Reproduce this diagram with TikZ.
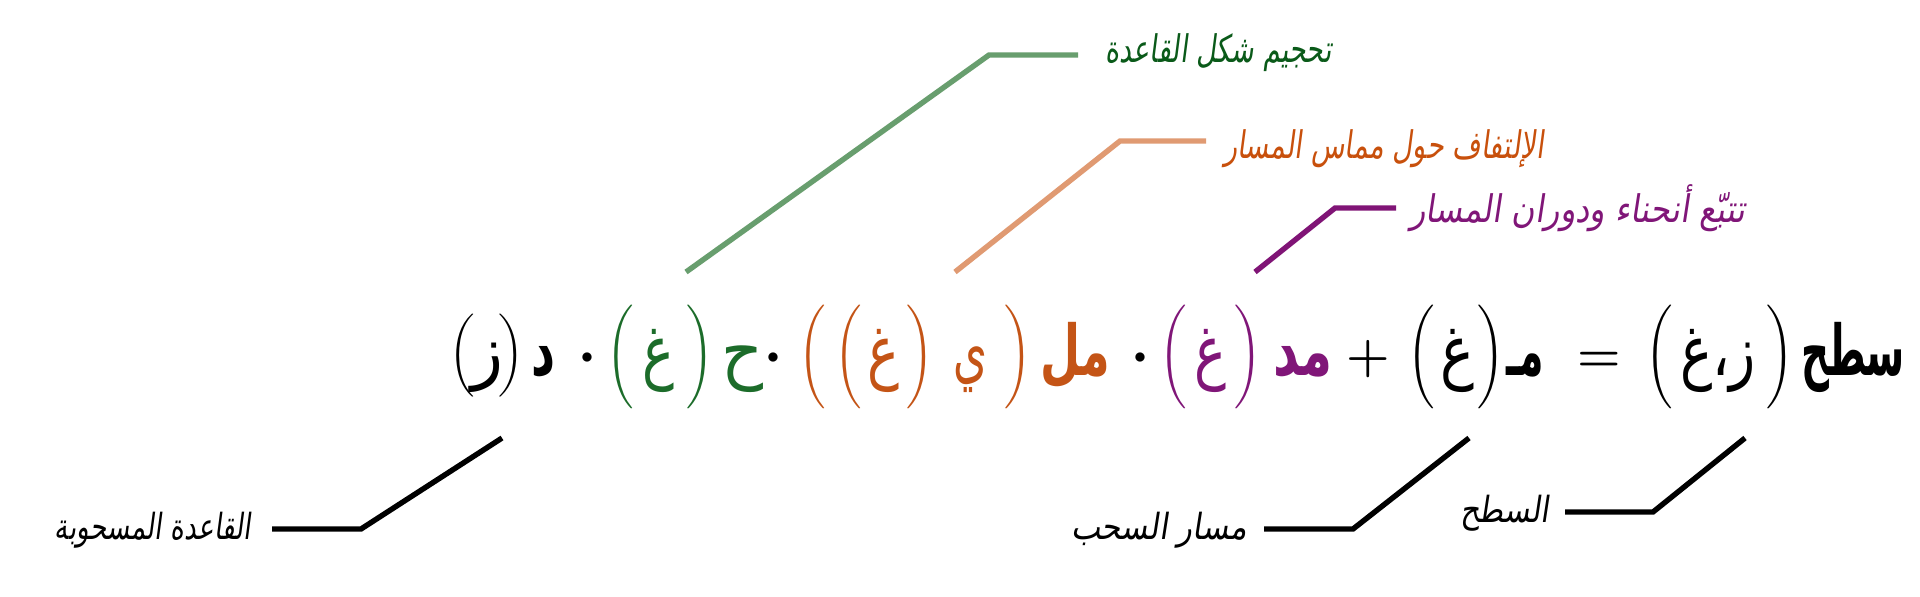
\documentclass[tikz,border=0pt]{standalone}
\usepackage{exscale}
\usepackage{fontspec}
\newfontfamily\arabicfont[Script=Arabic]{DejaVu Sans}
\newfontfamily\arabicsl[Script=Arabic,FakeSlant=0.18]{DejaVu Sans}
\TeXXeTstate=1
\newcommand\ArW[2]{\resizebox{#1pt}{\height}{\beginR #2\endR}}
\definecolor{fgreen}{RGB}{28,108,42}
\definecolor{greentext}{RGB}{10,90,25}
\definecolor{greenline}{RGB}{104,158,110}
\definecolor{forange}{RGB}{196,84,22}
\definecolor{orangetext}{RGB}{200,80,12}
\definecolor{orangeline}{RGB}{224,154,114}
\definecolor{fpurple}{RGB}{128,22,120}
\definecolor{purpleline}{RGB}{128,20,118}
\begin{document}
\begin{tikzpicture}[x=0.5pt,y=-0.5pt, every node/.style={inner sep=0pt,outer sep=0pt}]
\tikzset{
 arab/.style={anchor=base, font=\fontsize{35}{38}\selectfont\arabicfont},
 arabb/.style={anchor=base, font=\fontsize{35}{38}\selectfont\arabicfont\bfseries},
 bigpar/.style={anchor=center, font=\fontsize{18.5}{20}\usefont{OMX}{cmex}{m}{n}},
 smallpar/.style={anchor=center, font=\fontsize{16}{18}\usefont{OMX}{cmex}{m}{n}},
 mop/.style={anchor=base, font=\fontsize{29}{32}\selectfont\boldmath},
 mdot/.style={anchor=base, font=\fontsize{13}{15}\selectfont},
 lead/.style={line width=2.7pt},
 toplbl/.style={anchor=base west, font=\fontsize{19}{22}\selectfont\arabicsl},
 botlbl/.style={anchor=base east, font=\fontsize{18}{21}\selectfont\arabicsl},
}
\fill[white] (0,0) rectangle (1920,596);
\useasboundingbox (0,0) rectangle (1920,596);

% ---- formula (visual order, left to right) ----
\node[smallpar] (pa) at (462,356) {\char"12};
\node[arab] (za) at (487,375) {\ArW{16}{ز}};
\node[smallpar] (pb) at (511,356) {\char"13};
\node[arabb] (fd) at (543,375) {\ArW{12}{د}};
\node[mdot] (dota) at (587,363.5) {$\bullet$};

\node[bigpar, text=fgreen] (pc) at (620,357) {\char"20};
\node[arab, text=fgreen] (gha) at (658,375) {\ArW{16}{غ}};
\node[bigpar, text=fgreen] (pd) at (700,357) {\char"21};
\node[arab, text=fgreen] (fh) at (742,375) {\ArW{21}{ح}};
\node[mdot] (dotb) at (773,363.5) {$\bullet$};

\node[bigpar, text=forange] (pe) at (812,357) {\char"20};
\node[bigpar, text=forange] (pf) at (848,357) {\char"20};
\node[arab, text=forange] (ghb) at (883,375) {\ArW{16}{غ}};
\node[bigpar, text=forange] (pg) at (920,357) {\char"21};
\node[arab, text=forange] (fy) at (970,375) {\ArW{17}{ي}};
\node[bigpar, text=forange] (ph) at (1018,357) {\char"21};
\node[arabb, text=forange] (fml) at (1075,375) {\ArW{35}{مل}};
\node[mdot] (dotc) at (1140,363.5) {$\bullet$};

\node[bigpar, text=fpurple] (pi) at (1173,357) {\char"20};
\node[arab, text=fpurple] (ghc) at (1210,375) {\ArW{16}{غ}};
\node[bigpar, text=fpurple] (pj) at (1248,357) {\char"21};
\node[arabb, text=fpurple] (fmd) at (1303,375) {\ArW{30}{مد}};
\node[mop] (plus) at (1368,371.5) {$+$};

\node[bigpar] (pk) at (1421,357) {\char"20};
\node[arab] (ghd) at (1457,375) {\ArW{17}{غ}};
\node[bigpar] (pl) at (1491,357) {\char"21};
\node[arabb] (fm) at (1525,375) {\ArW{19}{مـ}};
\node[mop] (eq) at (1599,371.5) {$=$};

\node[bigpar] (pm) at (1659,357) {\char"20};
\node[arab] (zgh) at (1718,375) {\ArW{38}{ز،غ}};
\node[bigpar] (pn) at (1780,357) {\char"21};
\node[arabb] (fs) at (1853,375) {\ArW{52}{سطح}};

% ---- labels ----
\node[toplbl, text=greentext] (lg) at (1105,62) {\resizebox{113.5pt}{\height}{\beginR تحجيم شكل القاعدة\endR}};
\node[toplbl, text=orangetext] (lo) at (1224,158) {\resizebox{160pt}{\height}{\beginR الإلتفاف حول مماس المسار\endR}};
\node[toplbl, text=fpurple] (lp) at (1410,222) {\resizebox{167.5pt}{\height}{\beginR تتبّع أنحناء ودوران المسار\endR}};
\node[botlbl] (lb) at (251,539) {\resizebox{98pt}{\height}{\beginR القاعدة المسحوبة\endR}};
\node[botlbl] (lm) at (1247,539) {\resizebox{88pt}{\height}{\beginR مسار السحب\endR}};
\node[botlbl] (lr) at (1549,522) {\resizebox{44.5pt}{\height}{\beginR السطح\endR}};

% ---- leader lines ----
\coordinate (g1) at (686,272); \coordinate (g2) at (989,55); \coordinate (g3) at (1078,55);
\draw[lead, greenline] (g1) -- (g2) -- (g3);
\coordinate (o1) at (955,272); \coordinate (o2) at (1120,141); \coordinate (o3) at (1206,141);
\draw[lead, orangeline] (o1) -- (o2) -- (o3);
\coordinate (q1) at (1255,272); \coordinate (q2) at (1335,208); \coordinate (q3) at (1396,208);
\draw[lead, purpleline] (q1) -- (q2) -- (q3);
\coordinate (b1) at (502,438); \coordinate (b2) at (361,529); \coordinate (b3) at (272,529);
\draw[lead] (b1) -- (b2) -- (b3);
\coordinate (m1) at (1469,438); \coordinate (m2) at (1353,529); \coordinate (m3) at (1264,529);
\draw[lead] (m1) -- (m2) -- (m3);
\coordinate (r1) at (1745,438); \coordinate (r2) at (1653,512); \coordinate (r3) at (1565,512);
\draw[lead] (r1) -- (r2) -- (r3);
\end{tikzpicture}
\end{document}
